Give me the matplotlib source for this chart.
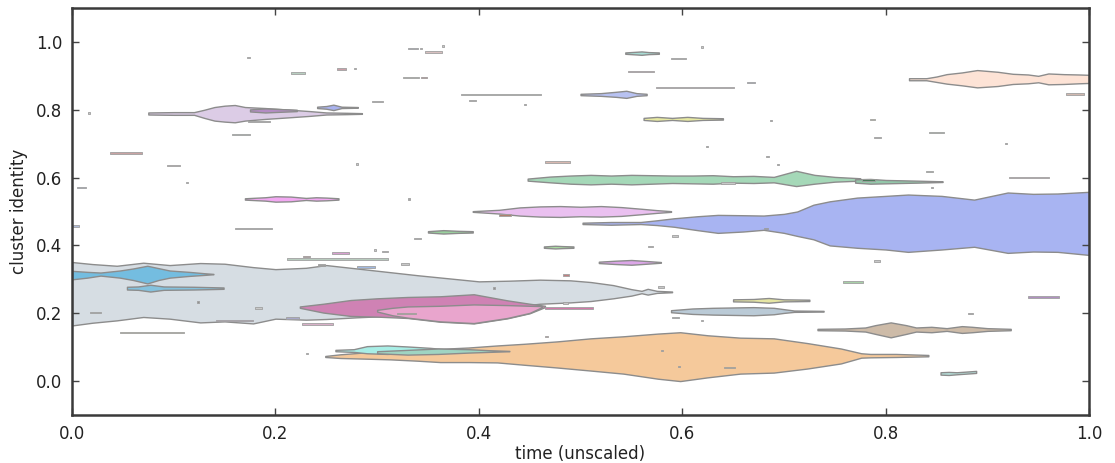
import matplotlib
matplotlib.use("Agg")
import matplotlib.pyplot as plt

# --- cluster envelopes: time points, lower and upper edge ---
gray_x = [0, 0.02, 0.044, 0.07, 0.096, 0.126, 0.15, 0.178, 0.2, 0.23, 0.25, 0.28, 0.31, 0.34, 0.37,
          0.40, 0.43, 0.46, 0.49, 0.51, 0.532, 0.55, 0.56, 0.566, 0.575, 0.59]
gray_hi = [0.351, 0.345, 0.340, 0.349, 0.342, 0.348, 0.346, 0.336, 0.330, 0.334, 0.342, 0.332, 0.322,
           0.312, 0.303, 0.294, 0.296, 0.299, 0.297, 0.292, 0.283, 0.271, 0.266, 0.272, 0.266, 0.264]
gray_lo = [0.164, 0.172, 0.179, 0.189, 0.184, 0.173, 0.176, 0.170, 0.184, 0.181, 0.183, 0.188, 0.192,
           0.198, 0.203, 0.210, 0.218, 0.228, 0.232, 0.236, 0.244, 0.252, 0.259, 0.255, 0.260, 0.262]

sky_x = [0, 0.015, 0.028, 0.047, 0.06, 0.074, 0.085, 0.096, 0.115, 0.13, 0.139]
sky_hi = [0.325, 0.322, 0.320, 0.326, 0.332, 0.340, 0.333, 0.326, 0.322, 0.318, 0.316]
sky_lo = [0.300, 0.305, 0.311, 0.305, 0.298, 0.288, 0.298, 0.305, 0.310, 0.313, 0.315]

sky2_x = [0.054, 0.065, 0.077, 0.09, 0.12, 0.149]
sky2_hi = [0.278, 0.279, 0.284, 0.279, 0.278, 0.276]
sky2_lo = [0.270, 0.269, 0.264, 0.269, 0.270, 0.272]

magenta_x = [0.224, 0.247, 0.274, 0.30, 0.33, 0.362, 0.395, 0.428, 0.45, 0.465]
magenta_hi = [0.220, 0.228, 0.239, 0.244, 0.248, 0.250, 0.256, 0.238, 0.228, 0.222]
magenta_lo = [0.216, 0.202, 0.192, 0.190, 0.186, 0.175, 0.170, 0.185, 0.200, 0.218]

rose_x = [0.30, 0.315, 0.33, 0.362, 0.395, 0.428, 0.45, 0.462]
rose_hi = [0.210, 0.216, 0.220, 0.222, 0.226, 0.224, 0.222, 0.221]
rose_lo = [0.205, 0.194, 0.187, 0.176, 0.171, 0.186, 0.201, 0.218]

orange_x = [0.249, 0.264, 0.29, 0.313, 0.34, 0.362, 0.39, 0.418, 0.445, 0.477, 0.51, 0.542, 0.576,
            0.598, 0.625, 0.657, 0.69, 0.723, 0.756, 0.776, 0.785, 0.81, 0.842]
orange_hi = [0.074, 0.079, 0.085, 0.088, 0.092, 0.095, 0.099, 0.105, 0.110, 0.117, 0.126, 0.132, 0.140,
             0.144, 0.135, 0.128, 0.126, 0.112, 0.096, 0.082, 0.080, 0.080, 0.077]
orange_lo = [0.071, 0.068, 0.066, 0.064, 0.060, 0.056, 0.056, 0.055, 0.048, 0.040, 0.031, 0.022, 0.007,
             0.000, 0.011, 0.022, 0.025, 0.037, 0.052, 0.069, 0.070, 0.071, 0.073]

cyan_x = [0.259, 0.277, 0.29, 0.31, 0.33, 0.352, 0.37]
cyan_hi = [0.092, 0.094, 0.103, 0.105, 0.102, 0.098, 0.093]
cyan_lo = [0.088, 0.086, 0.082, 0.080, 0.083, 0.086, 0.089]

seafoam_x = [0.30, 0.33, 0.36, 0.39, 0.41, 0.43]
seafoam_hi = [0.088, 0.092, 0.096, 0.094, 0.091, 0.089]
seafoam_lo = [0.082, 0.078, 0.080, 0.084, 0.086, 0.088]

periwinkle_x = [0.502, 0.53, 0.559, 0.575, 0.592, 0.615, 0.635, 0.66, 0.68, 0.70, 0.713, 0.729, 0.745,
                0.772, 0.80, 0.822, 0.855, 0.887, 0.92, 0.945, 0.969, 1.0]
periwinkle_hi = [0.467, 0.469, 0.469, 0.474, 0.480, 0.486, 0.490, 0.489, 0.488, 0.493, 0.500, 0.520,
                 0.530, 0.541, 0.546, 0.550, 0.546, 0.535, 0.556, 0.552, 0.553, 0.558]
periwinkle_lo = [0.463, 0.461, 0.463, 0.460, 0.455, 0.445, 0.437, 0.441, 0.446, 0.437, 0.428, 0.418,
                 0.400, 0.393, 0.388, 0.381, 0.388, 0.396, 0.378, 0.382, 0.381, 0.372]

green_x = [0.448, 0.47, 0.49, 0.51, 0.53, 0.55, 0.57, 0.59, 0.61, 0.63, 0.65, 0.67, 0.69, 0.712,
           0.73, 0.75, 0.775]
green_hi = [0.597, 0.603, 0.606, 0.608, 0.606, 0.608, 0.607, 0.606, 0.606, 0.607, 0.604, 0.605, 0.602,
            0.620, 0.608, 0.602, 0.598]
green_lo = [0.591, 0.586, 0.582, 0.580, 0.582, 0.580, 0.582, 0.584, 0.583, 0.582, 0.585, 0.584, 0.586,
            0.575, 0.582, 0.588, 0.591]

green2_x = [0.77, 0.785, 0.8, 0.83, 0.856]
green2_hi = [0.595, 0.596, 0.593, 0.591, 0.589]
green2_lo = [0.585, 0.582, 0.583, 0.585, 0.587]

lilac_x = [0.394, 0.42, 0.44, 0.46, 0.48, 0.5, 0.52, 0.54, 0.56, 0.575, 0.589]
lilac_hi = [0.501, 0.505, 0.512, 0.515, 0.516, 0.514, 0.516, 0.513, 0.508, 0.504, 0.501]
lilac_lo = [0.499, 0.494, 0.488, 0.485, 0.484, 0.486, 0.485, 0.487, 0.492, 0.496, 0.499]

lavender_x = [0.075, 0.1, 0.12, 0.13, 0.14, 0.15, 0.16, 0.17, 0.19, 0.21, 0.234, 0.25, 0.27, 0.285]
lavender_hi = [0.792, 0.793, 0.793, 0.800, 0.808, 0.812, 0.814, 0.808, 0.805, 0.801, 0.796, 0.792,
               0.791, 0.790]
lavender_lo = [0.786, 0.785, 0.785, 0.776, 0.768, 0.765, 0.763, 0.768, 0.773, 0.777, 0.782, 0.786,
               0.787, 0.788]

plum_x = [0.175, 0.19, 0.205, 0.221]
plum_hi = [0.801, 0.804, 0.802, 0.800]
plum_lo = [0.795, 0.792, 0.794, 0.796]

iris_x = [0.241, 0.25, 0.257, 0.265, 0.281]
iris_hi = [0.809, 0.811, 0.815, 0.809, 0.808]
iris_lo = [0.805, 0.803, 0.799, 0.805, 0.806]

peach_x = [0.823, 0.84, 0.85, 0.86, 0.875, 0.89, 0.91, 0.925, 0.94, 0.95, 0.96, 0.975, 0.99, 1.0]
peach_hi = [0.893, 0.893, 0.898, 0.905, 0.910, 0.917, 0.912, 0.906, 0.904, 0.900, 0.907, 0.905, 0.904, 0.903]
peach_lo = [0.887, 0.887, 0.882, 0.877, 0.872, 0.866, 0.870, 0.876, 0.878, 0.881, 0.875, 0.876, 0.878, 0.879]

tan_x = [0.733, 0.76, 0.78, 0.79, 0.805, 0.82, 0.83, 0.845, 0.86, 0.875, 0.885, 0.9, 0.923]
tan_hi = [0.154, 0.155, 0.158, 0.165, 0.173, 0.165, 0.158, 0.160, 0.156, 0.162, 0.160, 0.156, 0.154]
tan_lo = [0.150, 0.149, 0.146, 0.139, 0.129, 0.139, 0.146, 0.144, 0.148, 0.142, 0.144, 0.148, 0.150]

slate_x = [0.589, 0.61, 0.63, 0.65, 0.67, 0.69, 0.7, 0.71, 0.739]
slate_hi = [0.209, 0.214, 0.216, 0.217, 0.218, 0.216, 0.212, 0.208, 0.207]
slate_lo = [0.203, 0.198, 0.196, 0.195, 0.194, 0.197, 0.201, 0.204, 0.205]

straw_x = [0.65, 0.67, 0.685, 0.7, 0.725]
straw_hi = [0.241, 0.242, 0.245, 0.241, 0.240]
straw_lo = [0.235, 0.234, 0.231, 0.235, 0.236]

orchid_x = [0.518, 0.535, 0.55, 0.565, 0.579]
orchid_hi = [0.352, 0.355, 0.357, 0.354, 0.351]
orchid_lo = [0.348, 0.345, 0.343, 0.346, 0.349]

mint_x = [0.464, 0.475, 0.482, 0.493]
mint_hi = [0.397, 0.399, 0.398, 0.397]
mint_lo = [0.393, 0.391, 0.392, 0.393]

fern_x = [0.35, 0.365, 0.38, 0.394]
fern_hi = [0.442, 0.445, 0.443, 0.442]
fern_lo = [0.438, 0.435, 0.437, 0.438]

fuchsia_x = [0.17, 0.19, 0.2, 0.215, 0.23, 0.24, 0.25, 0.262]
fuchsia_hi = [0.539, 0.542, 0.545, 0.544, 0.540, 0.542, 0.541, 0.539]
fuchsia_lo = [0.535, 0.532, 0.529, 0.530, 0.534, 0.532, 0.533, 0.535]

cornflower_x = [0.5, 0.52, 0.535, 0.545, 0.555, 0.565]
cornflower_hi = [0.847, 0.849, 0.853, 0.856, 0.849, 0.847]
cornflower_lo = [0.843, 0.841, 0.838, 0.835, 0.841, 0.843]

lemon_x = [0.562, 0.575, 0.59, 0.605, 0.62, 0.64]
lemon_hi = [0.776, 0.779, 0.776, 0.779, 0.776, 0.775]
lemon_lo = [0.770, 0.767, 0.770, 0.767, 0.770, 0.771]

teal_x = [0.544, 0.555, 0.56, 0.567, 0.577]
teal_hi = [0.969, 0.971, 0.972, 0.970, 0.969]
teal_lo = [0.965, 0.963, 0.962, 0.964, 0.965]

aqua_x = [0.854, 0.862, 0.87, 0.889]
aqua_hi = [0.026, 0.027, 0.026, 0.030]
aqua_lo = [0.019, 0.018, 0.020, 0.024]

# short-lived clusters: start, end, level, colour
dash_x0 = [0.172, 0.215, 0.261, 0.277, 0.295, 0.016, 0.037, 0.157, 0.093, 0.112, 0.279, 0.005, 0.160,
           0.001, 0.173, 0.018, 0.123, 0.180, 0.047, 0.142, 0.210, 0.226, 0.211, 0.227, 0.256, 0.305,
           0.297, 0.280, 0.242, 0.230, 0.336, 0.323, 0.483, 0.566, 0.590, 0.414, 0.576, 0.483, 0.590,
           0.618, 0.465, 0.579, 0.596, 0.641, 0.465, 0.330, 0.342, 0.347, 0.364, 0.325, 0.343, 0.390,
           0.444, 0.589, 0.618, 0.547, 0.664, 0.623, 0.465, 0.330, 0.638, 0.686, 0.785, 0.789, 0.843,
           0.917, 0.682, 0.693, 0.840, 0.845, 0.921, 0.977, 0.680, 0.789, 0.758, 0.940, 0.881, 0.777,
           0.420, 0.320, 0.382, 0.574]
dash_x1 = [0.175, 0.229, 0.269, 0.279, 0.306, 0.018, 0.069, 0.175, 0.106, 0.114, 0.281, 0.014, 0.197,
           0.007, 0.195, 0.028, 0.125, 0.187, 0.110, 0.178, 0.223, 0.257, 0.311, 0.234, 0.272, 0.311,
           0.299, 0.298, 0.249, 0.232, 0.343, 0.331, 0.489, 0.571, 0.596, 0.416, 0.582, 0.488, 0.597,
           0.620, 0.468, 0.581, 0.598, 0.652, 0.512, 0.340, 0.344, 0.364, 0.366, 0.341, 0.349, 0.397,
           0.446, 0.604, 0.620, 0.572, 0.672, 0.625, 0.490, 0.332, 0.652, 0.688, 0.790, 0.795, 0.857,
           0.919, 0.685, 0.695, 0.847, 0.847, 0.961, 0.995, 0.684, 0.794, 0.778, 0.970, 0.886, 0.790,
           0.432, 0.338, 0.461, 0.651]
dash_y = [0.955, 0.908, 0.920, 0.922, 0.825, 0.790, 0.672, 0.727, 0.635, 0.585, 0.640, 0.570, 0.450,
          0.457, 0.765, 0.203, 0.233, 0.215, 0.144, 0.178, 0.186, 0.168, 0.360, 0.367, 0.378, 0.383,
          0.386, 0.336, 0.342, 0.082, 0.420, 0.345, 0.313, 0.396, 0.428, 0.274, 0.277, 0.230, 0.188,
          0.179, 0.132, 0.091, 0.043, 0.040, 0.215, 0.980, 0.980, 0.970, 0.988, 0.896, 0.896, 0.828,
          0.816, 0.952, 0.985, 0.913, 0.881, 0.691, 0.646, 0.537, 0.584, 0.769, 0.772, 0.718, 0.733,
          0.700, 0.662, 0.638, 0.617, 0.570, 0.600, 0.846, 0.449, 0.354, 0.292, 0.248, 0.200, 0.593,
          0.490, 0.200, 0.845, 0.865]
dash_color = ['#c8c8c8', '#b8cfc0', '#c9a0a8', '#c8c8c8', '#c8c8c8', '#c8c8c8', '#c9a3a3', '#b8cfc0',
              '#d0c0c0', '#c8c8c8', '#c8c8c8', '#b0bcd8', '#c8c8c8', '#b0bcd8', '#a8a8a8', '#b0b0b0',
              '#909090', '#c8c8c8', '#d0d0a0', '#c8a0d0', '#a8a8c8', '#d8b0c8', '#b8cbbe', '#c07070',
              '#d8a0d0', '#c8c8c8', '#c8c8c8', '#a0b8e0', '#a0a0a0', '#c8c8c8', '#c8c8c8', '#c8c8c8',
              '#c08080', '#c8c8c8', '#c8c8c8', '#909090', '#c8c8c8', '#c8c8c8', '#b8c8c8', '#c8c8c8',
              '#d0a0a0', '#909090', '#909090', '#c0b080', '#d07aa8', '#b0b8d0', '#c8c8c8', '#d8c0c0',
              '#c8c8c8', '#c8d0b8', '#c06060', '#c8c8c8', '#a8a8a8', '#c8c8c8', '#c8c8c8', '#d8b0c0',
              '#b0b8d8', '#a0a0a0', '#d8b8b0', '#a8a8a8', '#c8c8c8', '#a0a0a0', '#d8d8b0', '#c8c8c8',
              '#b8d0b8', '#a0a0a0', '#b0b0b0', '#a0a0a0', '#b8c8b8', '#a0a0a0', '#d8b8c0', '#d0b8b0',
              '#6070a0', '#c8c8c8', '#a8d0a8', '#b090c0', '#b0b0b0', '#4a7a5a', '#b08070', '#b0a070',
              '#c8ccc8', '#d8c0d0']

clusters = [
    (gray_x, gray_lo, gray_hi, '#d6dde3'),
    (sky_x, sky_lo, sky_hi, '#74bde0'),
    (sky2_x, sky2_lo, sky2_hi, '#84c2de'),
    (magenta_x, magenta_lo, magenta_hi, '#cf82b4'),
    (rose_x, rose_lo, rose_hi, '#e9a5cd'),
    (orange_x, orange_lo, orange_hi, '#f5c99b'),
    (cyan_x, cyan_lo, cyan_hi, '#a8eee6'),
    (seafoam_x, seafoam_lo, seafoam_hi, '#9fd4c2'),
    (periwinkle_x, periwinkle_lo, periwinkle_hi, '#a8b4f2'),
    (green_x, green_lo, green_hi, '#a5d8b8'),
    (green2_x, green2_lo, green2_hi, '#93c8aa'),
    (lilac_x, lilac_lo, lilac_hi, '#eac0f0'),
    (lavender_x, lavender_lo, lavender_hi, '#dccce6'),
    (plum_x, plum_lo, plum_hi, '#b48cc4'),
    (iris_x, iris_lo, iris_hi, '#a9b2ee'),
    (peach_x, peach_lo, peach_hi, '#fde3d6'),
    (tan_x, tan_lo, tan_hi, '#cdbba8'),
    (slate_x, slate_lo, slate_hi, '#bacad6'),
    (straw_x, straw_lo, straw_hi, '#e6e6a4'),
    (orchid_x, orchid_lo, orchid_hi, '#dca6e8'),
    (mint_x, mint_lo, mint_hi, '#aadda2'),
    (fern_x, fern_lo, fern_hi, '#9ad29e'),
    (fuchsia_x, fuchsia_lo, fuchsia_hi, '#f2a8f2'),
    (cornflower_x, cornflower_lo, cornflower_hi, '#b8c2f2'),
    (lemon_x, lemon_lo, lemon_hi, '#e8eaa2'),
    (teal_x, teal_lo, teal_hi, '#a8dcd4'),
    (aqua_x, aqua_lo, aqua_hi, '#b6e2dc'),
]

fig = plt.figure(figsize=(11.15, 4.63), dpi=100)
ax = fig.add_axes([0.0646, 0.1037, 0.9121, 0.879])

for xs, lo, hi, col in clusters:
    ax.fill_between(xs, lo, hi, facecolor=col, edgecolor='#8c8c8c', linewidth=1.0)

for x0, x1, y, col in zip(dash_x0, dash_x1, dash_y, dash_color):
    ax.fill_between([x0, x1], [y - 0.002, y - 0.002], [y + 0.002, y + 0.002],
                    facecolor=col, edgecolor='#a0a0a0', linewidth=0.6)

ax.set_xlim(0, 1)
ax.set_ylim(-0.1, 1.1)
ax.set_xticks([0, 0.2, 0.4, 0.6, 0.8, 1.0])
ax.set_yticks([0, 0.2, 0.4, 0.6, 0.8, 1.0])
ax.xaxis.set_major_formatter(matplotlib.ticker.FormatStrFormatter('%.1f'))
ax.yaxis.set_major_formatter(matplotlib.ticker.FormatStrFormatter('%.1f'))
ax.tick_params(direction='in', top=True, right=True, length=5, width=1,
               color='#444444', labelsize=12, labelcolor='#222222', pad=7)
for sp in ax.spines.values():
    sp.set_linewidth(1.8)
    sp.set_color('#3a3a3a')
ax.set_xlabel('time (unscaled)', fontsize=12, color='#222222', labelpad=2)
ax.set_ylabel('cluster identity', fontsize=12, color='#222222', labelpad=6)

fig.savefig('out.png', dpi=100)
